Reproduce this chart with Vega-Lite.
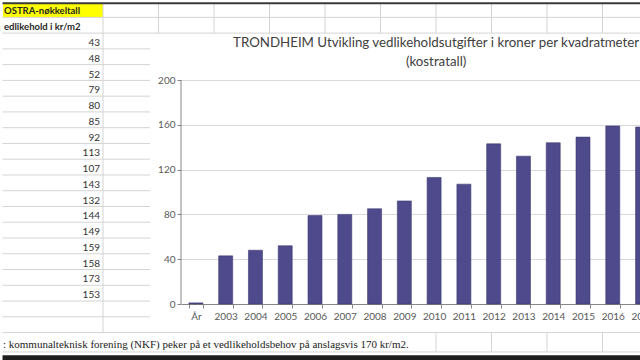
{
  "$schema": "https://vega.github.io/schema/vega-lite/v6.json",
  "padding": 0,
  "background": "white",
  "bounds": "flush",
  "spacing": 31,
  "config": {"view": {"stroke": null}, "font": "Lato"},
  "datasets": {
    "kostra": [
      {"label": "År", "year": null, "value": 1},
      {"label": "2003", "year": 2003, "value": 43},
      {"label": "2004", "year": 2004, "value": 48},
      {"label": "2005", "year": 2005, "value": 52},
      {"label": "2006", "year": 2006, "value": 79},
      {"label": "2007", "year": 2007, "value": 80},
      {"label": "2008", "year": 2008, "value": 85},
      {"label": "2009", "year": 2009, "value": 92},
      {"label": "2010", "year": 2010, "value": 113},
      {"label": "2011", "year": 2011, "value": 107},
      {"label": "2012", "year": 2012, "value": 143},
      {"label": "2013", "year": 2013, "value": 132},
      {"label": "2014", "year": 2014, "value": 144},
      {"label": "2015", "year": 2015, "value": 149},
      {"label": "2016", "year": 2016, "value": 159},
      {"label": "2017", "year": 2017, "value": 158},
      {"label": "2018", "year": 2018, "value": 173},
      {"label": "2019", "year": 2019, "value": 153}
    ],
    "tom": [{}],
    "radlinjer": [
      {"rad": 2001.5, "fra": -1.81, "til": 11.5},
      {"rad": 2002.5, "fra": -1.81, "til": 11.5},
      {"rad": 2003.5, "fra": -1.81, "til": 0.847},
      {"rad": 2004.5, "fra": -1.81, "til": 0.847},
      {"rad": 2005.5, "fra": -1.81, "til": 0.847},
      {"rad": 2006.5, "fra": -1.81, "til": 0.847},
      {"rad": 2007.5, "fra": -1.81, "til": 0.847},
      {"rad": 2008.5, "fra": -1.81, "til": 0.847},
      {"rad": 2009.5, "fra": -1.81, "til": 0.847},
      {"rad": 2010.5, "fra": -1.81, "til": 0.847},
      {"rad": 2011.5, "fra": -1.81, "til": 0.847},
      {"rad": 2012.5, "fra": -1.81, "til": 0.847},
      {"rad": 2013.5, "fra": -1.81, "til": 0.847},
      {"rad": 2014.5, "fra": -1.81, "til": 0.847},
      {"rad": 2015.5, "fra": -1.81, "til": 0.847},
      {"rad": 2016.5, "fra": -1.81, "til": 0.847},
      {"rad": 2017.5, "fra": -1.81, "til": 0.847},
      {"rad": 2018.5, "fra": -1.81, "til": 0.847},
      {"rad": 2019.5, "fra": -1.81, "til": 0.847},
      {"rad": 2020.5, "fra": -1.81, "til": 0.847},
      {"rad": 2021.5, "fra": -1.81, "til": 11.5},
      {"rad": 2022.73, "fra": -1.81, "til": 11.5}
    ],
    "kolonnelinjer": [
      {"kol": 0, "fra": 2000.6, "til": 2021.5},
      {"kol": 1, "fra": 2000.6, "til": 2002.5},
      {"kol": 2, "fra": 2000.6, "til": 2002.5},
      {"kol": 3, "fra": 2000.6, "til": 2002.5},
      {"kol": 4, "fra": 2000.6, "til": 2002.5},
      {"kol": 5, "fra": 2000.6, "til": 2002.5},
      {"kol": 6, "fra": 2000.6, "til": 2002.5},
      {"kol": 7, "fra": 2000.6, "til": 2002.5},
      {"kol": 8, "fra": 2000.6, "til": 2002.5},
      {"kol": 9, "fra": 2000.6, "til": 2002.5},
      {"kol": 10, "fra": 2000.6, "til": 2002.5},
      {"kol": 6, "fra": 2021.5, "til": 2022.73},
      {"kol": 7, "fra": 2021.5, "til": 2022.73},
      {"kol": 8, "fra": 2021.5, "til": 2022.73},
      {"kol": 9, "fra": 2021.5, "til": 2022.73},
      {"kol": 10, "fra": 2021.5, "til": 2022.73}
    ]
  },
  "hconcat": [
    {
      "width": 147,
      "height": 360,
      "layer": [
        {
          "data": {"name": "tom"},
          "mark": {"type": "rect", "color": "#ffff00"},
          "encoding": {
            "x": {"datum": -1.8018, "type": "quantitative", "axis": null, "scale": {"domain": [-1.8018, 0.8468], "nice": false, "zero": false}},
            "x2": {"datum": 0},
            "y": {"datum": 2000.6, "type": "quantitative", "axis": null, "scale": {"domain": [2000.3985, 2023.241], "reverse": true, "nice": false, "zero": false}},
            "y2": {"datum": 2001.5}
          }
        },
        {
          "data": {"name": "radlinjer"},
          "mark": {"type": "rule", "color": "#d4d4d4", "strokeWidth": 1},
          "encoding": {
            "y": {"field": "rad", "type": "quantitative"},
            "x": {"field": "fra", "type": "quantitative"},
            "x2": {"field": "til"}
          }
        },
        {
          "data": {"name": "kolonnelinjer"},
          "mark": {"type": "rule", "color": "#d4d4d4", "strokeWidth": 1},
          "encoding": {
            "x": {"field": "kol", "type": "quantitative"},
            "y": {"field": "fra", "type": "quantitative"},
            "y2": {"field": "til"}
          }
        },
        {
          "data": {"name": "tom"},
          "mark": {"type": "rule", "color": "#3a3a3a", "strokeWidth": 2},
          "encoding": {
            "y": {"datum": 2000.6, "type": "quantitative"},
            "x": {"datum": -1.81, "type": "quantitative"},
            "x2": {"datum": 11.5}
          }
        },
        {
          "data": {"name": "tom"},
          "mark": {"type": "rule", "color": "#1e1e1e", "strokeWidth": 5},
          "encoding": {
            "y": {"datum": 2023.1, "type": "quantitative"},
            "x": {"datum": -1.81, "type": "quantitative"},
            "x2": {"datum": 11.5}
          }
        },
        {
          "data": {"name": "kostra"},
          "transform": [{"filter": "isValid(datum.year)"}],
          "mark": {"type": "text", "align": "right", "baseline": "middle", "dx": -3, "dy": 2, "fontSize": 10, "color": "#333333"},
          "encoding": {
            "x": {"datum": 0, "type": "quantitative"},
            "y": {"field": "year", "type": "quantitative"},
            "text": {"field": "value", "type": "quantitative"}
          }
        },
        {
          "data": {"values": [{"rad": 2001, "tekst": "OSTRA-nøkkeltall"}, {"rad": 2002, "tekst": "edlikehold i kr/m2"}]},
          "mark": {"type": "text", "align": "left", "baseline": "middle", "dx": 1, "dy": 1.5, "fontSize": 9.5, "fontWeight": "bold", "color": "#262626"},
          "encoding": {
            "x": {"datum": -1.8018, "type": "quantitative"},
            "y": {"field": "rad", "type": "quantitative"},
            "text": {"field": "tekst"}
          }
        },
        {
          "data": {"values": [{"rad": 2022, "tekst": ": kommunalteknisk forening (NKF) peker på et vedlikeholdsbehov på anslagsvis 170 kr/m2."}]},
          "mark": {"type": "text", "align": "left", "baseline": "middle", "dy": 4.5, "font": "Liberation Serif", "fontSize": 11, "color": "#222222"},
          "encoding": {
            "x": {"datum": -1.8018, "type": "quantitative"},
            "y": {"field": "rad", "type": "quantitative"},
            "text": {"field": "tekst"}
          }
        }
      ]
    },
    {
      "width": 536,
      "height": 304,
      "layer": [
        {
          "data": {"name": "kostra"},
          "mark": {"type": "bar", "color": "#4e4a8b", "stroke": "#3d3a73", "strokeWidth": 0.6},
          "encoding": {
            "x": {
              "field": "label", "type": "nominal", "sort": null,
              "scale": {"paddingInner": 0.53, "paddingOuter": 0.265},
              "axis": {"title": null, "labelAngle": 0, "tickBand": "extent", "tickSize": 4, "tickColor": "#868686", "domainColor": "#868686", "labelPadding": 3, "labelColor": "#595959", "labelFontSize": 10, "labelFont": "Lato", "grid": false}
            },
            "y": {
              "field": "value", "type": "quantitative",
              "scale": {"domain": [0, 271.43], "nice": false},
              "axis": {"title": null, "values": [0, 20, 40, 60, 80, 100, 120, 140, 160, 180, 200], "labelOverlap": false, "domain": false, "tickSize": 4, "tickColor": "#868686", "labelColor": "#595959", "labelFontSize": 10, "labelFont": "Lato", "labelPadding": 2, "gridColor": "#d9d9d9"}
            }
          }
        },
        {
          "data": {"name": "tom"},
          "mark": {"type": "rule", "color": "#868686", "x": 0},
          "encoding": {
            "y": {"datum": 0, "type": "quantitative"},
            "y2": {"datum": 200}
          }
        },
        {
          "data": {"name": "tom"},
          "mark": {"type": "text", "text": "TRONDHEIM Utvikling vedlikeholdsutgifter i kroner per kvadratmeter", "align": "center", "baseline": "middle", "dx": 2, "fontSize": 13.3, "color": "#404040"},
          "encoding": {"x": {"datum": "2010", "type": "nominal"}, "y": {"datum": 233, "type": "quantitative"}}
        },
        {
          "data": {"name": "tom"},
          "mark": {"type": "text", "text": "(kostratall)", "align": "center", "baseline": "middle", "dx": 2, "fontSize": 13.3, "color": "#404040"},
          "encoding": {"x": {"datum": "2010", "type": "nominal"}, "y": {"datum": 216, "type": "quantitative"}}
        }
      ]
    }
  ]
}
